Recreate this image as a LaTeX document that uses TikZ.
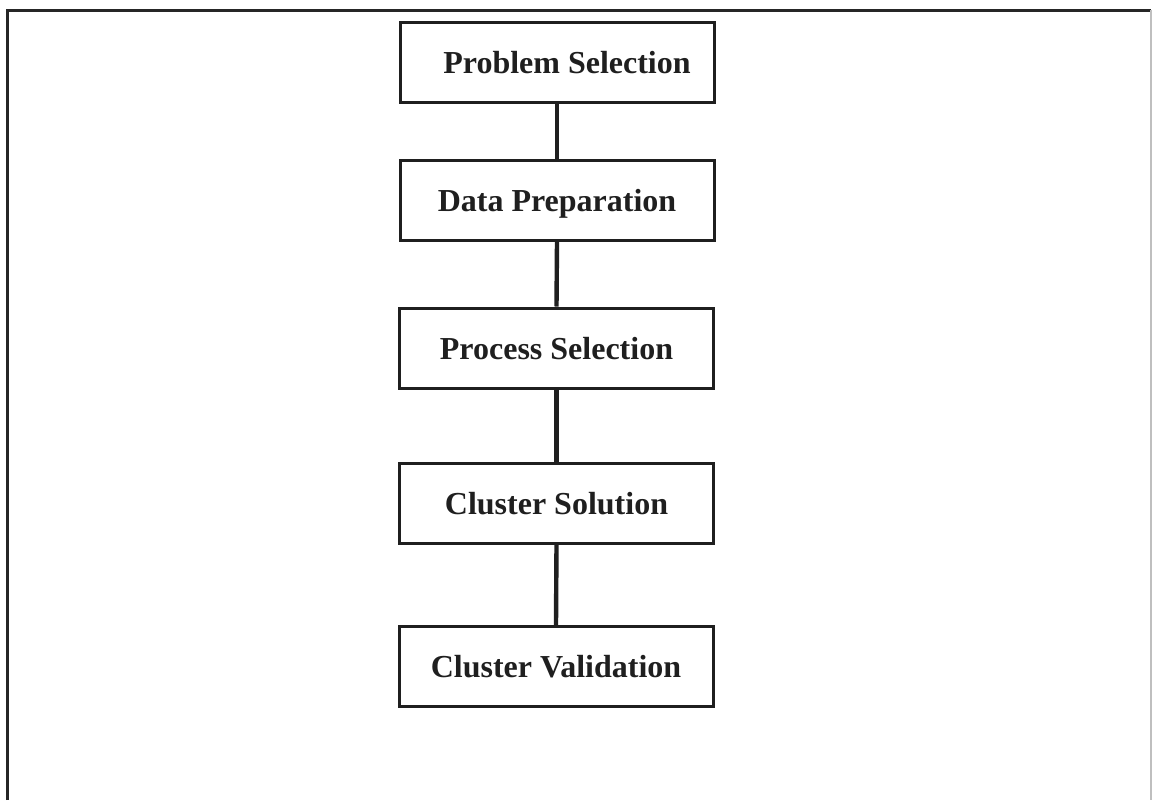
\documentclass[tikz,border=0pt]{standalone}
\usepackage{fontspec}
\setmainfont{Liberation Serif}
\begin{document}
\begin{tikzpicture}[x=0.5pt,y=-0.5pt,
  stagebox/.style={draw=black!88, line width=1.5pt, minimum width=157pt,
    minimum height=40pt, inner sep=0pt, text height=1.2em, text depth=0.09em,
    font=\fontsize{16}{19}\selectfont\bfseries, text=black!88},
  link/.style={draw=black!88, line width=2.2pt}]
  \useasboundingbox (0,0) rectangle (1153,800);
  % page frame
  \draw[black!85, line width=1.5pt] (7,800) -- (7,10) -- (1151,10);
  \draw[black!25, line width=0.6pt] (1151,10) -- (1151,800);
  % stages
  \node[stagebox] (ps) at (557,62.5) {\hspace*{10pt}Problem Selection};
  \node[stagebox] (dp) at (557,200.5) {Data Preparation};
  \node[stagebox] (prs) at (556.5,348) {Process Selection};
  \node[stagebox] (cs) at (556.5,503.5) {Cluster Solution};
  \node[stagebox] (cv) at (556,666.5) {Cluster Validation};
  % connectors
  \draw[link] (ps.south) -- (dp.north);
  \draw[link] (dp.south) -- (prs.north);
  \draw[link] (prs.south) -- (cs.north);
  \draw[link] (cs.south) -- (cv.north);
\end{tikzpicture}
\end{document}
